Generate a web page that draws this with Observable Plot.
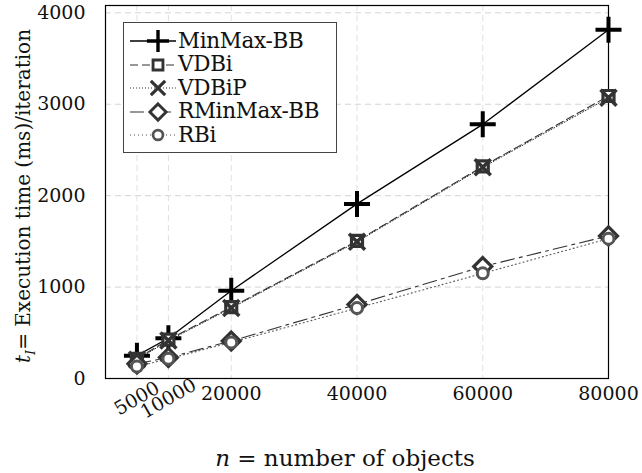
<!DOCTYPE html>
<html><head><meta charset="utf-8">
<script src="https://cdn.jsdelivr.net/npm/d3@7"></script>
<script src="https://cdn.jsdelivr.net/npm/@observablehq/plot@0.6"></script>
<style>
body{margin:0;background:#fff}
#wrap{position:relative;width:642px;height:473px}
#legend{position:absolute;left:123px;top:22px;width:214px;height:131px;border:1.3px solid #444;background:#fff;box-sizing:border-box;font-family:"DejaVu Serif",serif;font-size:21.5px;color:#111;padding-top:6px}
.row{display:flex;align-items:center;height:23.5px;margin-left:4px;overflow:visible}
.row span{line-height:22px;white-space:nowrap;letter-spacing:-0.3px}
</style>
</head><body><div id="wrap"><div id="legend"></div></div>
<script>
const nValues = [5000, 10000, 20000, 40000, 60000, 80000];
const minmaxBB = [250, 440, 960, 1910, 2780, 3815];
const vdbi = [215, 425, 780, 1505, 2320, 3090];
const vdbip = [205, 415, 770, 1495, 2310, 3070];
const rminmaxBB = [160, 230, 410, 810, 1225, 1560];
const rbi = [130, 215, 395, 770, 1150, 1530];
const seriesNames = ["MinMax-BB", "VDBi", "VDBiP", "RMinMax-BB", "RBi"];
const xTicksFlat = [20000, 40000, 60000, 80000];
const xTicksRot = [5000, 10000];
const yTicks = [0, 1000, 2000, 3000, 4000];

const FONT = "'DejaVu Serif', serif";
const symPlus = {draw(c){const r=13;c.moveTo(-r,0);c.lineTo(r,0);c.moveTo(0,-r);c.lineTo(0,r);}};
const symSquare = {draw(c){const r=5.5;c.rect(-r,-r,2*r,2*r);}};
const symTimes = {draw(c){const r=8;c.moveTo(-r,-r);c.lineTo(r,r);c.moveTo(-r,r);c.lineTo(r,-r);}};
const symDiamond = {draw(c){const r=9;c.moveTo(0,-r);c.lineTo(r,0);c.lineTo(0,r);c.lineTo(-r,0);c.closePath();}};
const symCircle = {draw(c){const r=5.5;c.moveTo(r,0);c.arc(0,0,r,0,2*Math.PI);c.closePath();}};

const styles = [
  {name: seriesNames[0], values: minmaxBB, color: "#000", dash: null, lw: 1.3, sym: symPlus, sw: 4, fill: "none"},
  {name: seriesNames[1], values: vdbi, color: "#333", dash: "8,4", lw: 1.1, sym: symSquare, sw: 3.2, fill: "#fff"},
  {name: seriesNames[2], values: vdbip, color: "#333", dash: "1,2", lw: 1, sym: symTimes, sw: 3.5, fill: "none"},
  {name: seriesNames[3], values: rminmaxBB, color: "#333", dash: "14,5,3,5", lw: 1.1, sym: symDiamond, sw: 3.2, fill: "#fff"},
  {name: seriesNames[4], values: rbi, color: "#555", dash: "1,3", lw: 1.1, sym: symCircle, sw: 3, fill: "#fff"}
];

const fmt = d3.format("d");
const marks = [
  Plot.gridY(yTicks.slice(1), {stroke: "#d4d4d4", strokeOpacity: 1, strokeDasharray: "6,4"}),
  Plot.gridX(nValues, {stroke: "#e0e0e0", strokeOpacity: 1, strokeDasharray: "6,4"}),
  Plot.frame({stroke: "#000", strokeWidth: 1.2}),
  Plot.axisY(yTicks, {tickSize: 0, tickPadding: 20, fontSize: 19, label: null, tickFormat: fmt}),
  Plot.axisX(xTicksFlat, {tickSize: 0, tickPadding: 8, fontSize: 19, label: null, tickFormat: fmt}),
  Plot.axisX(xTicksRot, {tickSize: 0, tickPadding: 20, fontSize: 19, tickRotate: -30, textAnchor: "middle", label: null, tickFormat: fmt})
];
styles.forEach(s => {
  const data = nValues.map((n, i) => ({n, t: s.values[i]}));
  marks.push(Plot.line(data, {x: "n", y: "t", stroke: s.color, strokeWidth: s.lw, strokeDasharray: s.dash}));
});
styles.forEach(s => {
  const data = nValues.map((n, i) => ({n, t: s.values[i]}));
  marks.push(Plot.dot(data, {x: "n", y: "t", symbol: s.sym, stroke: s.color, strokeWidth: s.sw, fill: s.fill, r: 5}));
});

const chart = Plot.plot({
  width: 642, height: 473,
  marginLeft: 105, marginRight: 34, marginTop: 5, marginBottom: 95,
  style: {fontFamily: FONT, color: "#111", background: "#fff"},
  x: {domain: [0, 80000]},
  y: {domain: [0, 4080]},
  marks
});
document.getElementById("wrap").prepend(chart);

const svg = d3.select(chart);
svg.selectAll("text").attr("font-family", FONT);
const yl = svg.append("text").attr("transform", "translate(30,196) rotate(-90)")
  .attr("text-anchor", "middle").attr("font-size", 20).attr("fill", "#111").attr("font-family", FONT);
yl.append("tspan").attr("font-style", "italic").text("t");
yl.append("tspan").attr("font-size", 13).attr("dy", 5).attr("font-style", "italic").text("I");
yl.append("tspan").attr("dy", -5).text("= Execution time (ms)/iteration");
const xl = svg.append("text").attr("x", 345).attr("y", 466).attr("text-anchor", "middle")
  .attr("font-size", 23).attr("fill", "#111").attr("font-family", FONT);
xl.append("tspan").attr("font-style", "italic").text("n");
xl.append("tspan").text(" = number of objects");

const legend = d3.select("#legend");
styles.forEach(s => {
  const row = legend.append("div").attr("class", "row");
  const sv = row.append("svg").attr("width", 50).attr("height", 23);
  sv.append("line").attr("x1", 2).attr("x2", 48).attr("y1", 12).attr("y2", 12)
    .attr("stroke", s.color).attr("stroke-width", s.lw).attr("stroke-dasharray", s.dash);
  const p = d3.path(); s.sym.draw(p);
  sv.append("path").attr("transform", "translate(30,12) scale(" + (s.sym === symPlus ? 0.85 : 0.9) + ")")
    .attr("d", p.toString()).attr("stroke", s.color).attr("stroke-width", s.sw).attr("fill", s.fill);
  row.append("span").text(s.name);
});
</script>
</body></html>
